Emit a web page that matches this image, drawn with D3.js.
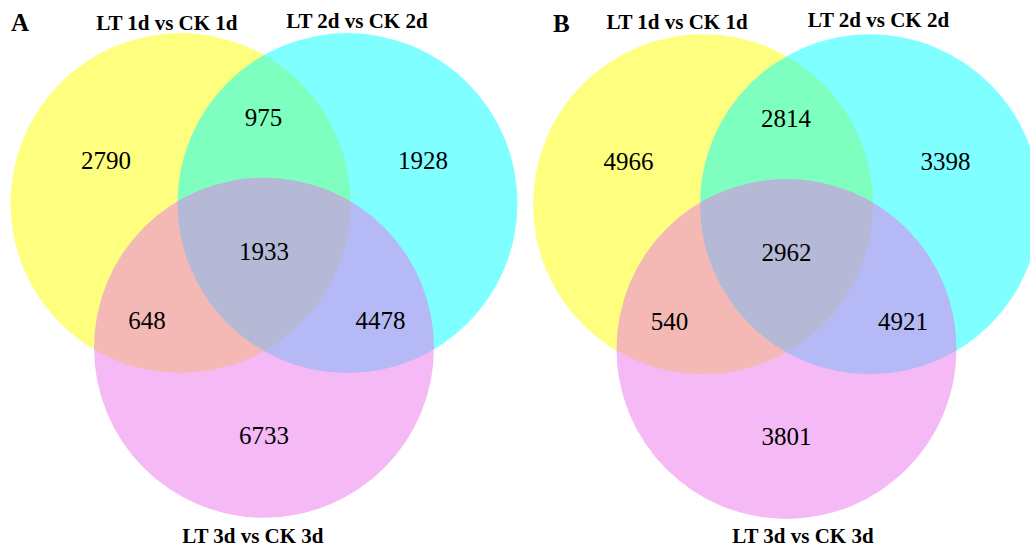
<!DOCTYPE html>
<html>
<head>
<meta charset="utf-8">
<script src="https://cdn.jsdelivr.net/npm/d3@7"></script>
<style>
  html, body { margin: 0; padding: 0; background: #fff; }
  svg { display: block; }
</style>
</head>
<body>
<svg id="chart" width="1030" height="552"></svg>
<script>
// Comparison sets shown as circles
const setNames = ["LT 1d vs CK 1d", "LT 2d vs CK 2d", "LT 3d vs CK 3d"];
const setColors = ["#ffff00", "#00ffff", "#eb73eb"];

// Region order: only 1, 1∩2, only 2, 1∩2∩3, 1∩3, 2∩3, only 3
const regionKeys = ["1", "12", "2", "123", "13", "23", "3"];
const countsA = [2790, 975, 1928, 1933, 648, 4478, 6733];
const countsB = [4966, 2814, 3398, 2962, 540, 4921, 3801];
const panelLetters = ["A", "B"];

const svg = d3.select("#chart");

// Layout in circle-radius units relative to the triangle centroid
const side = 0.982;                       // distance between circle centres
const tri = side * Math.sqrt(3) / 2;
const circleCentres = [
  [-side / 2, -tri / 3],
  [ side / 2, -tri / 3],
  [0, 2 * tri / 3]
];
// Label anchors (baseline) for each region
const regionAnchors = {
  "1":   [-0.929, -0.484],
  "12":  [-0.003, -0.737],
  "2":   [ 0.935, -0.484],
  "123": [ 0.0,    0.051],
  "13":  [-0.688,  0.457],
  "23":  [ 0.685,  0.457],
  "3":   [ 0.0,    1.134]
};

const panels = [
  { letter: panelLetters[0], counts: countsA, cx: 264, cy: 251.3,
    letterPos: [11, 30.5],
    titlePos: [[-0.571, -1.300], [0.547, -1.312], [-0.065, 1.716]] },
  { letter: panelLetters[1], counts: countsB, cx: 786.5, cy: 252.5,
    letterPos: [553, 31.5],
    titlePos: [[-0.644, -1.315], [0.541, -1.326], [0.097, 1.709]] }
];

const R = 170;

panels.forEach(p => {
  const x = d3.scaleLinear().domain([-1, 1]).range([p.cx - R, p.cx + R]);
  const y = d3.scaleLinear().domain([-1, 1]).range([p.cy - R, p.cy + R]);
  const g = svg.append("g");

  g.selectAll("circle")
    .data(setNames.map((n, i) => ({ name: n, c: circleCentres[i], color: setColors[i] })))
    .join("circle")
    .attr("cx", d => x(d.c[0]))
    .attr("cy", d => y(d.c[1]))
    .attr("r", x(1) - x(0))
    .attr("fill", d => d.color)
    .attr("fill-opacity", 0.5);

  g.selectAll("text.count")
    .data(regionKeys.map((k, i) => ({ key: k, value: p.counts[i] })))
    .join("text")
    .attr("class", "count")
    .attr("x", d => x(regionAnchors[d.key][0]))
    .attr("y", d => y(regionAnchors[d.key][1]))
    .attr("text-anchor", "middle")
    .attr("font-family", "'Liberation Serif', 'Times New Roman', serif")
    .attr("font-size", 25)
    .attr("fill", "#000")
    .text(d => d.value);

  g.selectAll("text.title")
    .data(setNames.map((n, i) => ({ name: n, pos: p.titlePos[i] })))
    .join("text")
    .attr("class", "title")
    .attr("x", d => x(d.pos[0]))
    .attr("y", d => y(d.pos[1]))
    .attr("text-anchor", "middle")
    .attr("font-family", "'Liberation Serif', 'Times New Roman', serif")
    .attr("font-weight", "bold")
    .attr("font-size", 21)
    .attr("fill", "#000")
    .text(d => d.name);

  g.append("text")
    .attr("x", p.letterPos[0])
    .attr("y", p.letterPos[1])
    .attr("font-family", "'Liberation Serif', 'Times New Roman', serif")
    .attr("font-weight", "bold")
    .attr("font-size", 25)
    .attr("fill", "#000")
    .text(p.letter);
});
</script>
</body>
</html>
